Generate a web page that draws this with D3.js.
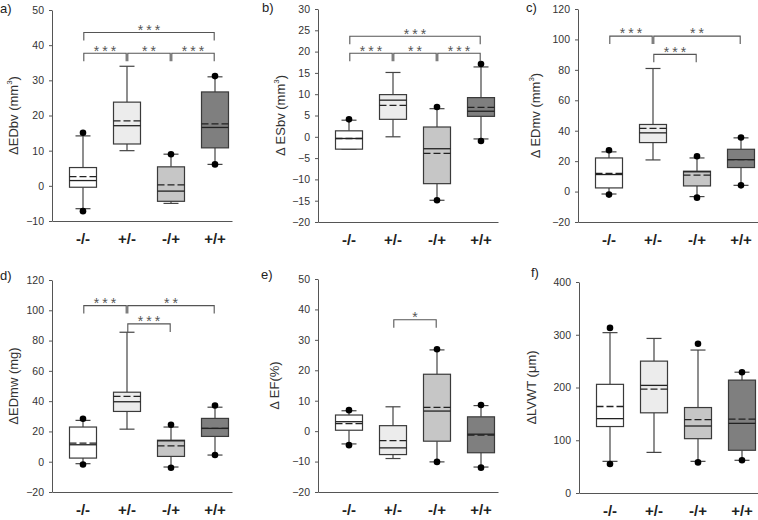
<!DOCTYPE html>
<html><head><meta charset="utf-8">
<script src="https://cdn.jsdelivr.net/npm/d3@7"></script>
<style>html,body{margin:0;padding:0;background:#fff;}svg{display:block;font-family:"Liberation Sans",Arial,sans-serif;}</style>
</head><body>
<svg id="c" width="758" height="520"></svg>
<script>
// ---- data ----
const categories = ["-/-", "+/-", "-/+", "+/+"];
const panelNames = ["a)", "b)", "c)", "d)", "e)", "f)"];
const yLabels = ["ΔEDbv (mm|3|)", "Δ ESbv (mm|3|)", "Δ EDmv (mm|3|)", "ΔEDmw (mg)", "Δ EF(%)", "ΔLVWT (μm)"];
const yDomains = [[-10, 50], [-20, 30], [-20, 120], [-20, 120], [-20, 50], [0, 400]];
const yTickSteps = [10, 5, 20, 20, 10, 100];

// panel a
const aLo = [-6.5, 10, -5.0, 6.1], aQ1 = [-0.4, 11.9, -4.4, 10.8], aMed = [1.5, 17.1, -1.5, 16.6], aMean = [2.6, 18.5, 0.3, 17.6];
const aQ3 = [5.2, 23.8, 5.4, 26.7], aHi = [14.2, 34, 9.0, 31.0], aPtLo = [-7.2, null, null, 6.1], aPtHi = [15.1, null, 9.0, 31.2];
// panel b
const bLo = [-2.9, 0, -14.9, -0.5], bQ1 = [-2.9, 4.1, -11.0, 4.8], bMed = [-0.4, 8.6, -2.8, 6.0], bMean = [-0.4, 7.4, -3.9, 6.9];
const bQ3 = [1.4, 9.9, 2.3, 9.2], bHi = [3.9, 15.1, 6.6, 16.4], bPtLo = [null, null, -14.9, -1.0], bPtHi = [4.1, null, 7.0, 17.1];
// panel c
const cLo = [-1.6, 20.8, -3.3, 4.1], cQ1 = [2.4, 32.2, 3.7, 15.8], cMed = [11.2, 38.6, 13.0, 21.0], cMean = [12.0, 41.5, 10.8, 21.0];
const cQ3 = [22.1, 44.1, 13.4, 27.8], cHi = [26.1, 80.9, 22.1, 35.3], cPtLo = [-2.0, null, -4.0, 4.1], cPtHi = [27.2, null, 23.2, 35.5];
// panel d
const dLo = [-1.3, 21.5, -3.5, 4.4], dQ1 = [2.4, 33.2, 3.5, 16.7], dMed = [11.2, 39.6, 13.8, 22.0], dMean = [12.3, 43.1, 10.5, 22.0];
const dQ3 = [22.9, 45.9, 14.2, 28.6], dHi = [27.3, 85.5, 22.9, 36.0], dPtLo = [-1.8, null, -4.0, 4.4], dPtHi = [28.4, null, 24.4, 37.1];
// panel e
const eLo = [-4.2, -9.0, -10.1, -11.8], eQ1 = [0.3, -7.7, -3.3, -7.1], eMed = [3.1, -5.5, 6.6, -1.0], eMean = [2.5, -3.1, 7.8, -1.3];
const eQ3 = [5.3, 1.8, 18.7, 4.7], eHi = [6.7, 8.0, 26.7, 8.4], ePtLo = [-4.6, null, -10.1, -12.0], ePtHi = [6.9, null, 26.9, 8.6];
// panel f
const fLo = [60, 77, 60, 62], fQ1 = [126, 152, 103, 81], fMed = [141, 204, 127, 132], fMean = [164, 197, 139, 140];
const fQ3 = [206, 250, 162, 214], fHi = [304, 293, 271, 229], fPtLo = [55, null, 58, 62], fPtHi = [313, null, 283, 229];

// significance brackets: [fromIndex, toIndex, level (data units), label]
const aBrackets = [[0, 3, 43.6, "***"], [0, 1, 37.7, "***"], [1, 2, 37.7, "**"], [2, 3, 37.7, "***"]];
const bBrackets = [[0, 3, 23.6, "***"], [0, 1, 19.6, "***"], [1, 2, 19.6, "**"], [2, 3, 19.6, "***"]];
const cBrackets = [[0, 1, 102.2, "***"], [1, 3, 102.2, "**"], [1, 2, 90.2, "***"]];
const dBrackets = [[0, 1, 103.1, "***"], [1, 3, 103.1, "**"], [1, 2, 91.0, "***"]];
const eBrackets = [[1, 2, 36.6, "*"]];
const fBrackets = [];

// ---- build ----
const stats = [
  [aLo, aQ1, aMed, aMean, aQ3, aHi, aPtLo, aPtHi, aBrackets],
  [bLo, bQ1, bMed, bMean, bQ3, bHi, bPtLo, bPtHi, bBrackets],
  [cLo, cQ1, cMed, cMean, cQ3, cHi, cPtLo, cPtHi, cBrackets],
  [dLo, dQ1, dMed, dMean, dQ3, dHi, dPtLo, dPtHi, dBrackets],
  [eLo, eQ1, eMed, eMean, eQ3, eHi, ePtLo, ePtHi, eBrackets],
  [fLo, fQ1, fMed, fMean, fQ3, fHi, fPtLo, fPtHi, fBrackets]
];
const layout = [
  {x: 52, top: 10, bottom: 221, lx: 15, px: 0, py: 10},
  {x: 318, top: 9, bottom: 222, lx: 282, px: 262, py: 9},
  {x: 578, top: 9, bottom: 222, lx: 537, px: 526, py: 9},
  {x: 52, top: 280, bottom: 492, lx: 15, px: 0, py: 277},
  {x: 318, top: 279, bottom: 492, lx: 276, px: 261, py: 276},
  {x: 579, top: 282, bottom: 493, lx: 533, px: 531, py: 274}
];
const fills = ["#ffffff", "#ececec", "#c6c6c6", "#7f7f7f"];
const axisColor = "#555";
const boxW = 27, capW = 15;

const svg = d3.select("#c");

stats.forEach((s, pi) => {
  const L = layout[pi];
  const [lo, q1, med, mean, q3, hi, ptLo, ptHi, brackets] = s;
  const g = svg.append("g");
  const y = d3.scaleLinear().domain(yDomains[pi]).range([L.bottom, L.top]);
  const x = d3.scalePoint().domain(categories).range([L.x + 31, L.x + 163]);

  // y axis
  const ticks = d3.range(yDomains[pi][0], yDomains[pi][1] + 0.001, yTickSteps[pi]);
  const ya = g.append("g").attr("transform", `translate(${L.x},0)`)
    .call(d3.axisLeft(y).tickValues(ticks).tickSize(3).tickSizeOuter(0).tickPadding(5).tickFormat(d3.format("d")));
  ya.select(".domain").attr("stroke", axisColor);
  ya.selectAll(".tick line").attr("stroke", axisColor);
  ya.selectAll(".tick text").attr("fill", "#333").style("font-size", "10.5px").style("font-family", '"Liberation Sans",Arial,sans-serif');

  // x axis
  const xa = g.append("g").attr("transform", `translate(0,${L.bottom})`)
    .call(d3.axisBottom(d3.scaleLinear().range([L.x, L.x + 180])).tickValues([]).tickSizeOuter(0));
  xa.select(".domain").attr("stroke", axisColor);
  // category labels
  g.selectAll("text.cat").data(categories).join("text")
    .attr("class", "cat")
    .attr("x", d => x(d)).attr("y", L.bottom + 23)
    .attr("text-anchor", "middle")
    .style("font-size", "15px").style("font-weight", "bold").attr("fill", "#222")
    .text(d => d);

  // y label
  const parts = yLabels[pi].split("|");
  const yl = g.append("text")
    .attr("transform", `translate(${L.lx},${(L.top + L.bottom) / 2}) rotate(-90)`)
    .attr("text-anchor", "middle").attr("dominant-baseline", "middle")
    .style("font-size", "13px").attr("fill", "#333");
  yl.append("tspan").text(parts[0]);
  if (parts.length > 1) {
    yl.append("tspan").attr("dy", -5).style("font-size", "8px").text(parts[1]);
    yl.append("tspan").attr("dy", 5).text(parts[2]);
  }

  // panel label
  g.append("text").attr("x", L.px).attr("y", L.py).attr("dominant-baseline", "middle")
    .style("font-size", "13px").attr("fill", "#222").text(panelNames[pi]);

  // boxes
  categories.forEach((c, i) => {
    const cx = x(c);
    const bg = g.append("g");
    bg.append("line").attr("x1", cx).attr("x2", cx).attr("y1", y(q3[i])).attr("y2", y(hi[i])).attr("stroke", "#444").attr("stroke-width", 1.2);
    bg.append("line").attr("x1", cx).attr("x2", cx).attr("y1", y(q1[i])).attr("y2", y(lo[i])).attr("stroke", "#444").attr("stroke-width", 1.2);
    bg.append("line").attr("x1", cx - capW / 2).attr("x2", cx + capW / 2).attr("y1", y(hi[i])).attr("y2", y(hi[i])).attr("stroke", "#444").attr("stroke-width", 1.2);
    bg.append("line").attr("x1", cx - capW / 2).attr("x2", cx + capW / 2).attr("y1", y(lo[i])).attr("y2", y(lo[i])).attr("stroke", "#444").attr("stroke-width", 1.2);
    bg.append("rect").attr("x", cx - boxW / 2).attr("width", boxW)
      .attr("y", y(q3[i])).attr("height", y(q1[i]) - y(q3[i]))
      .attr("fill", fills[i]).attr("stroke", "#3a3a3a").attr("stroke-width", 1.2);
    bg.append("line").attr("x1", cx - boxW / 2).attr("x2", cx + boxW / 2).attr("y1", y(med[i])).attr("y2", y(med[i]))
      .attr("stroke", "#222").attr("stroke-width", 1.3);
    bg.append("line").attr("x1", cx - boxW / 2).attr("x2", cx + boxW / 2).attr("y1", y(mean[i])).attr("y2", y(mean[i]))
      .attr("stroke", "#222").attr("stroke-width", 1.3).attr("stroke-dasharray", "7,3");
    [ptLo[i], ptHi[i]].forEach(v => {
      if (v !== null) bg.append("circle").attr("cx", cx).attr("cy", y(v)).attr("r", 3.3).attr("fill", "#000");
    });
  });

  // brackets
  brackets.forEach(([a, b, lev, lab]) => {
    const x1 = x(categories[a]) + 0.8, x2 = x(categories[b]) - 0.8, yy = y(lev);
    g.append("path")
      .attr("d", `M${x1},${yy + 8}V${yy}H${x2}V${yy + 8}`)
      .attr("fill", "none").attr("stroke", "#555").attr("stroke-width", 1.1);
    g.append("text").attr("x", (x1 + x2) / 2 + 1.5).attr("y", yy + 2.3)
      .attr("text-anchor", "middle").style("font-size", "14px").style("letter-spacing", "3px")
      .attr("fill", "#555").text(lab);
  });
});
</script>
</body></html>
